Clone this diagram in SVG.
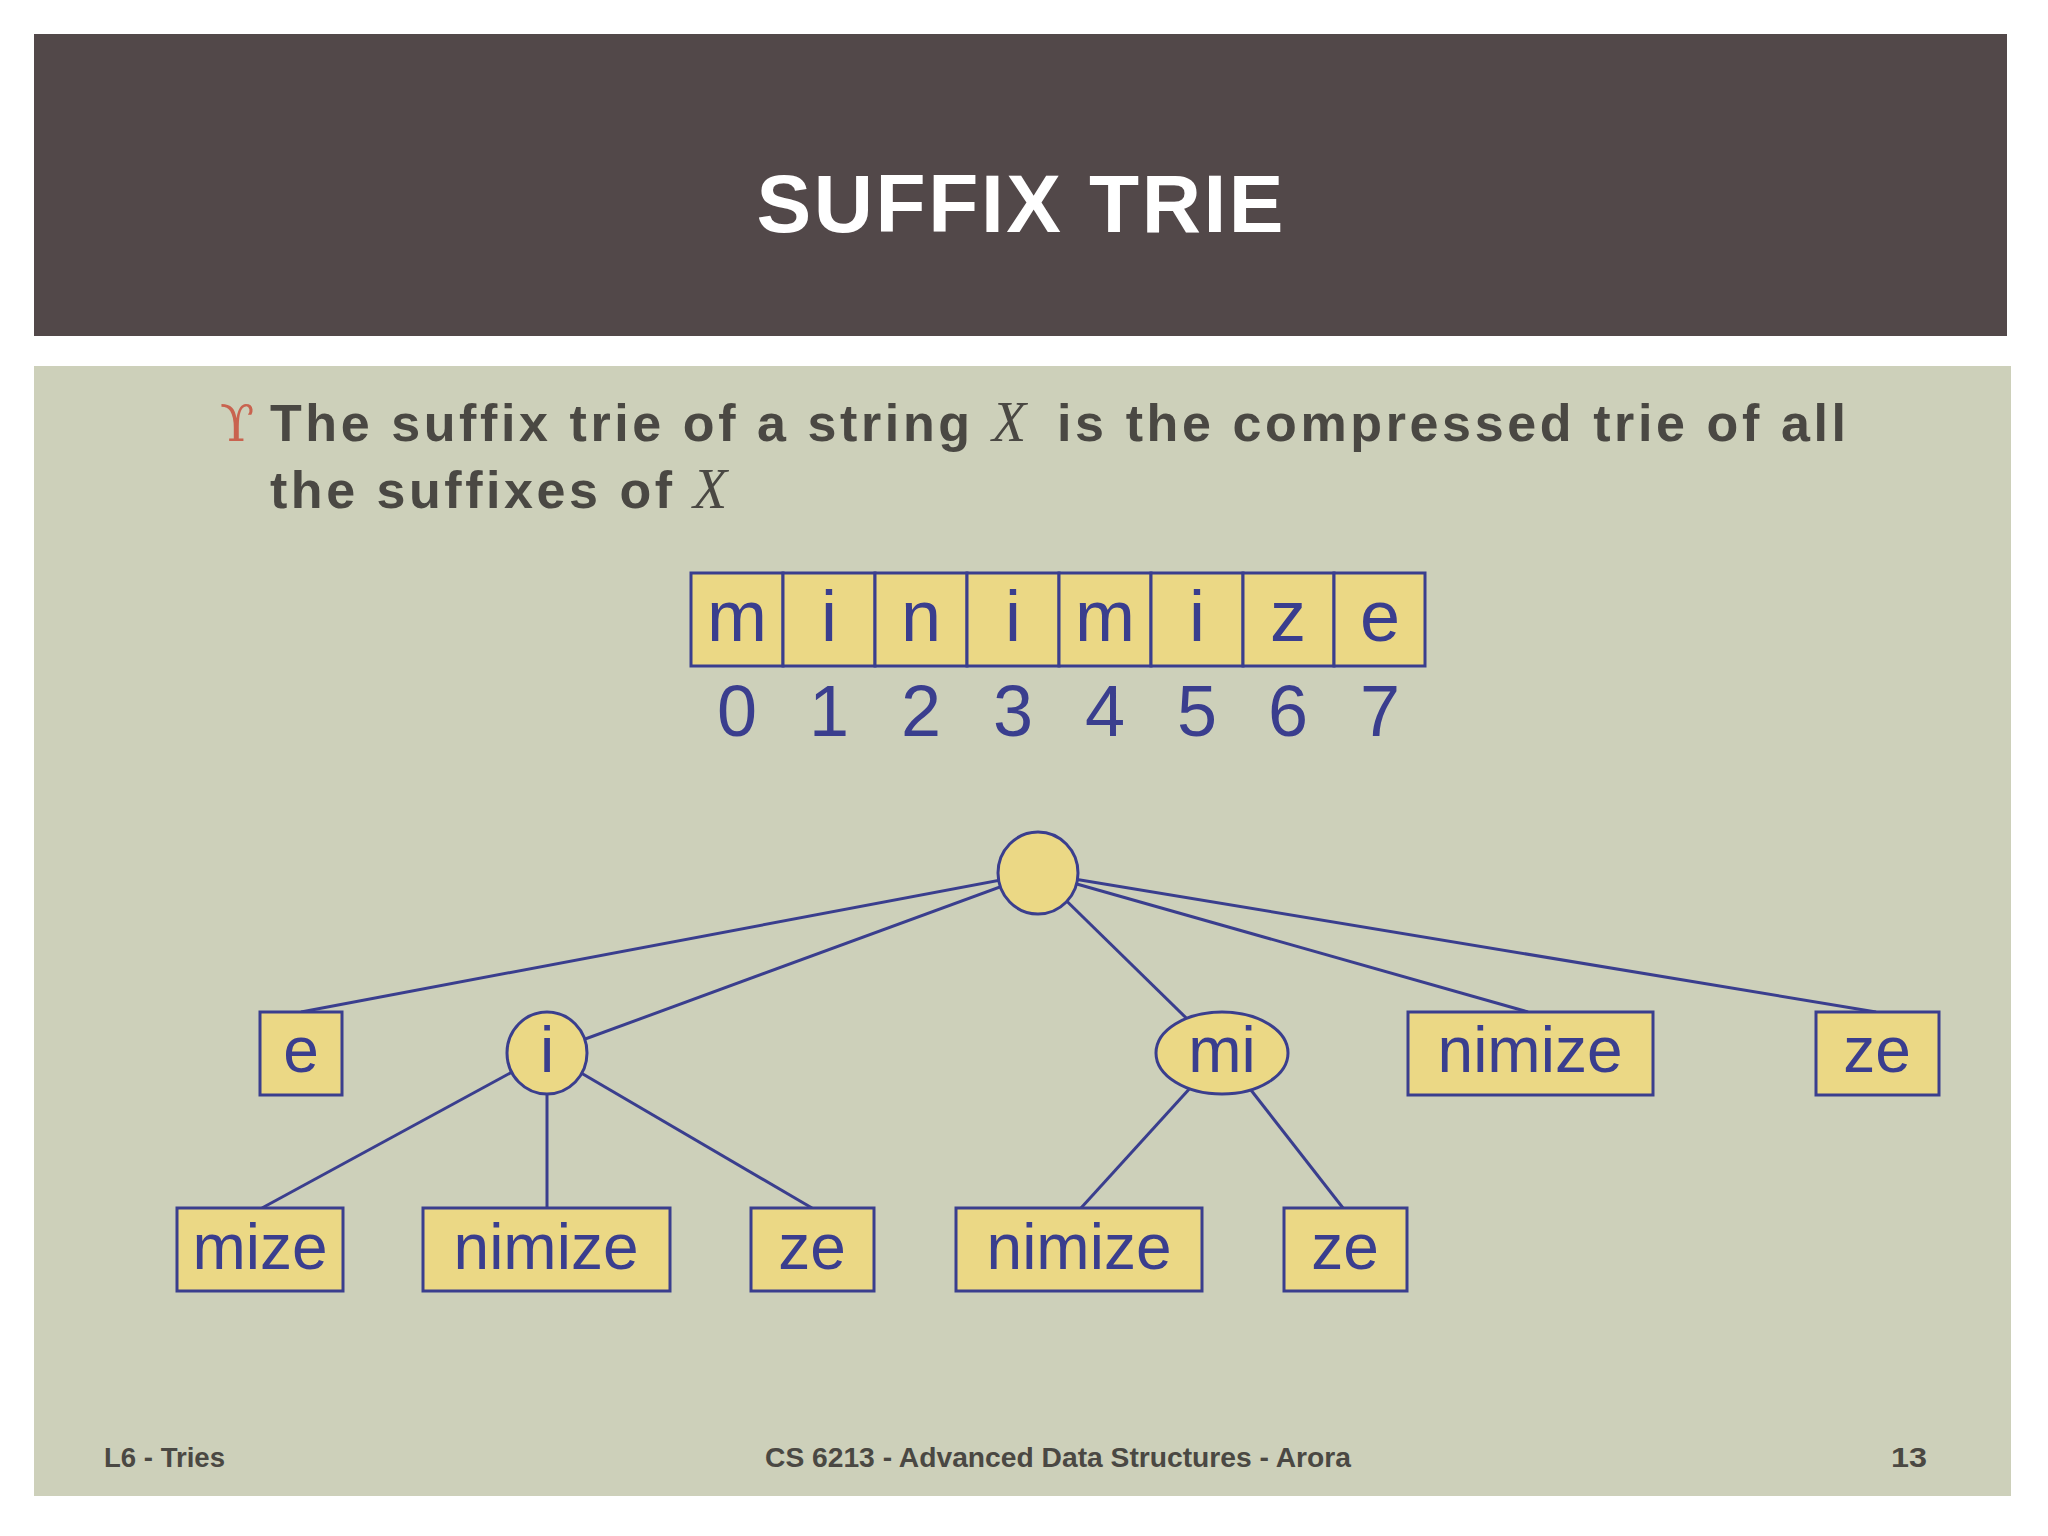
<svg xmlns="http://www.w3.org/2000/svg" width="2048" height="1536" viewBox="0 0 2048 1536">
<style>
.edge{stroke:#3a3e8e;stroke-width:3;fill:none}
.nd{fill:#ebd885;stroke:#3a3e8e;stroke-width:3}
.lbl{font-family:"Liberation Sans",Arial,sans-serif;font-size:64px;fill:#3a3e8e;text-anchor:middle}
.arr{font-family:"Liberation Sans",Arial,sans-serif;font-size:72px;fill:#3a3e8e;text-anchor:middle}
.body{font-family:"Liberation Sans",Arial,sans-serif;font-weight:bold;font-size:52px;fill:#4a4843}
.xv{font-family:"Liberation Serif","Times New Roman",serif;font-style:italic;font-size:56px;fill:#4a4843}
.foot{font-family:"Liberation Sans",Arial,sans-serif;font-weight:bold;font-size:27px;fill:#4a4843}
</style>
<rect width="2048" height="1536" fill="#ffffff"/>
<rect x="34" y="34" width="1973" height="302" fill="#524849"/>
<text x="1020" y="232" font-family="Liberation Sans,Arial,sans-serif" font-weight="bold" font-size="82" fill="#ffffff" text-anchor="middle" textLength="527" lengthAdjust="spacing">SUFFIX TRIE</text>
<rect x="34" y="366" width="1977" height="130" fill="#cdd0ba"/>
<rect x="34" y="366" width="1977" height="1130" fill="#cdd0ba"/>

<text x="220" y="441" font-family="DejaVu Serif,serif" font-size="50" fill="#c9634f">ϒ</text>
<text class="body" x="270" y="441" textLength="700" lengthAdjust="spacing">The suffix trie of a string</text>
<text class="xv" x="992" y="441">X</text>
<text class="body" x="1057" y="441" textLength="789" lengthAdjust="spacing">is the compressed trie of all</text>
<text class="body" x="270" y="508" textLength="402" lengthAdjust="spacing">the suffixes of</text>
<text class="xv" x="693" y="508">X</text>

<g id="array">
<rect class="nd" x="691" y="573" width="92" height="93"/>
<rect class="nd" x="783" y="573" width="92" height="93"/>
<rect class="nd" x="875" y="573" width="92" height="93"/>
<rect class="nd" x="967" y="573" width="92" height="93"/>
<rect class="nd" x="1059" y="573" width="92" height="93"/>
<rect class="nd" x="1151" y="573" width="92" height="93"/>
<rect class="nd" x="1243" y="573" width="91" height="93"/>
<rect class="nd" x="1334" y="573" width="91" height="93"/>
<text class="arr" x="737" y="641">m</text>
<text class="arr" x="829" y="641">i</text>
<text class="arr" x="921" y="641">n</text>
<text class="arr" x="1013" y="641">i</text>
<text class="arr" x="1105" y="641">m</text>
<text class="arr" x="1197" y="641">i</text>
<text class="arr" x="1288" y="641">z</text>
<text class="arr" x="1380" y="641">e</text>
<text class="arr" x="737" y="736">0</text>
<text class="arr" x="829" y="736">1</text>
<text class="arr" x="921" y="736">2</text>
<text class="arr" x="1013" y="736">3</text>
<text class="arr" x="1105" y="736">4</text>
<text class="arr" x="1197" y="736">5</text>
<text class="arr" x="1288" y="736">6</text>
<text class="arr" x="1380" y="736">7</text>
</g>

<g id="connectors">
<line class="edge" x1="1038" y1="873" x2="301" y2="1012"/>
<line class="edge" x1="1038" y1="873" x2="547" y2="1053"/>
<line class="edge" x1="1038" y1="873" x2="1222" y2="1053"/>
<line class="edge" x1="1038" y1="873" x2="1528" y2="1012"/>
<line class="edge" x1="1038" y1="873" x2="1876" y2="1012"/>
<line class="edge" x1="547" y1="1053" x2="262" y2="1208"/>
<line class="edge" x1="547" y1="1053" x2="547" y2="1208"/>
<line class="edge" x1="547" y1="1053" x2="812" y2="1208"/>
<line class="edge" x1="1222" y1="1053" x2="1081" y2="1208"/>
<line class="edge" x1="1222" y1="1053" x2="1343" y2="1208"/>
</g>

<g id="root"><ellipse class="nd" cx="1038" cy="873" rx="40" ry="41"/></g>
<g id="n-e"><rect class="nd" x="260" y="1012" width="82" height="83"/><text class="lbl" x="301" y="1072">e</text></g>
<g id="n-i"><ellipse class="nd" cx="547" cy="1053" rx="40" ry="41"/><text class="lbl" x="547" y="1072">i</text></g>
<g id="n-mi"><ellipse class="nd" cx="1222" cy="1053" rx="66" ry="41"/><text class="lbl" x="1222" y="1072">mi</text></g>
<g id="n-nimize"><rect class="nd" x="1408" y="1012" width="245" height="83"/><text class="lbl" x="1530" y="1072">nimize</text></g>
<g id="n-ze"><rect class="nd" x="1816" y="1012" width="123" height="83"/><text class="lbl" x="1877" y="1072">ze</text></g>
<g id="n-mize"><rect class="nd" x="177" y="1208" width="166" height="83"/><text class="lbl" x="260" y="1269">mize</text></g>
<g id="n-i-nimize"><rect class="nd" x="423" y="1208" width="247" height="83"/><text class="lbl" x="546" y="1269">nimize</text></g>
<g id="n-i-ze"><rect class="nd" x="751" y="1208" width="123" height="83"/><text class="lbl" x="812" y="1269">ze</text></g>
<g id="n-mi-nimize"><rect class="nd" x="956" y="1208" width="246" height="83"/><text class="lbl" x="1079" y="1269">nimize</text></g>
<g id="n-mi-ze"><rect class="nd" x="1284" y="1208" width="123" height="83"/><text class="lbl" x="1345" y="1269">ze</text></g>

<text class="foot" x="104" y="1467" textLength="121" lengthAdjust="spacingAndGlyphs">L6 - Tries</text>
<text class="foot" x="765" y="1467" textLength="586" lengthAdjust="spacingAndGlyphs">CS 6213 - Advanced Data Structures - Arora</text>
<text class="foot" x="1891" y="1467" textLength="36" lengthAdjust="spacingAndGlyphs">13</text>
</svg>
